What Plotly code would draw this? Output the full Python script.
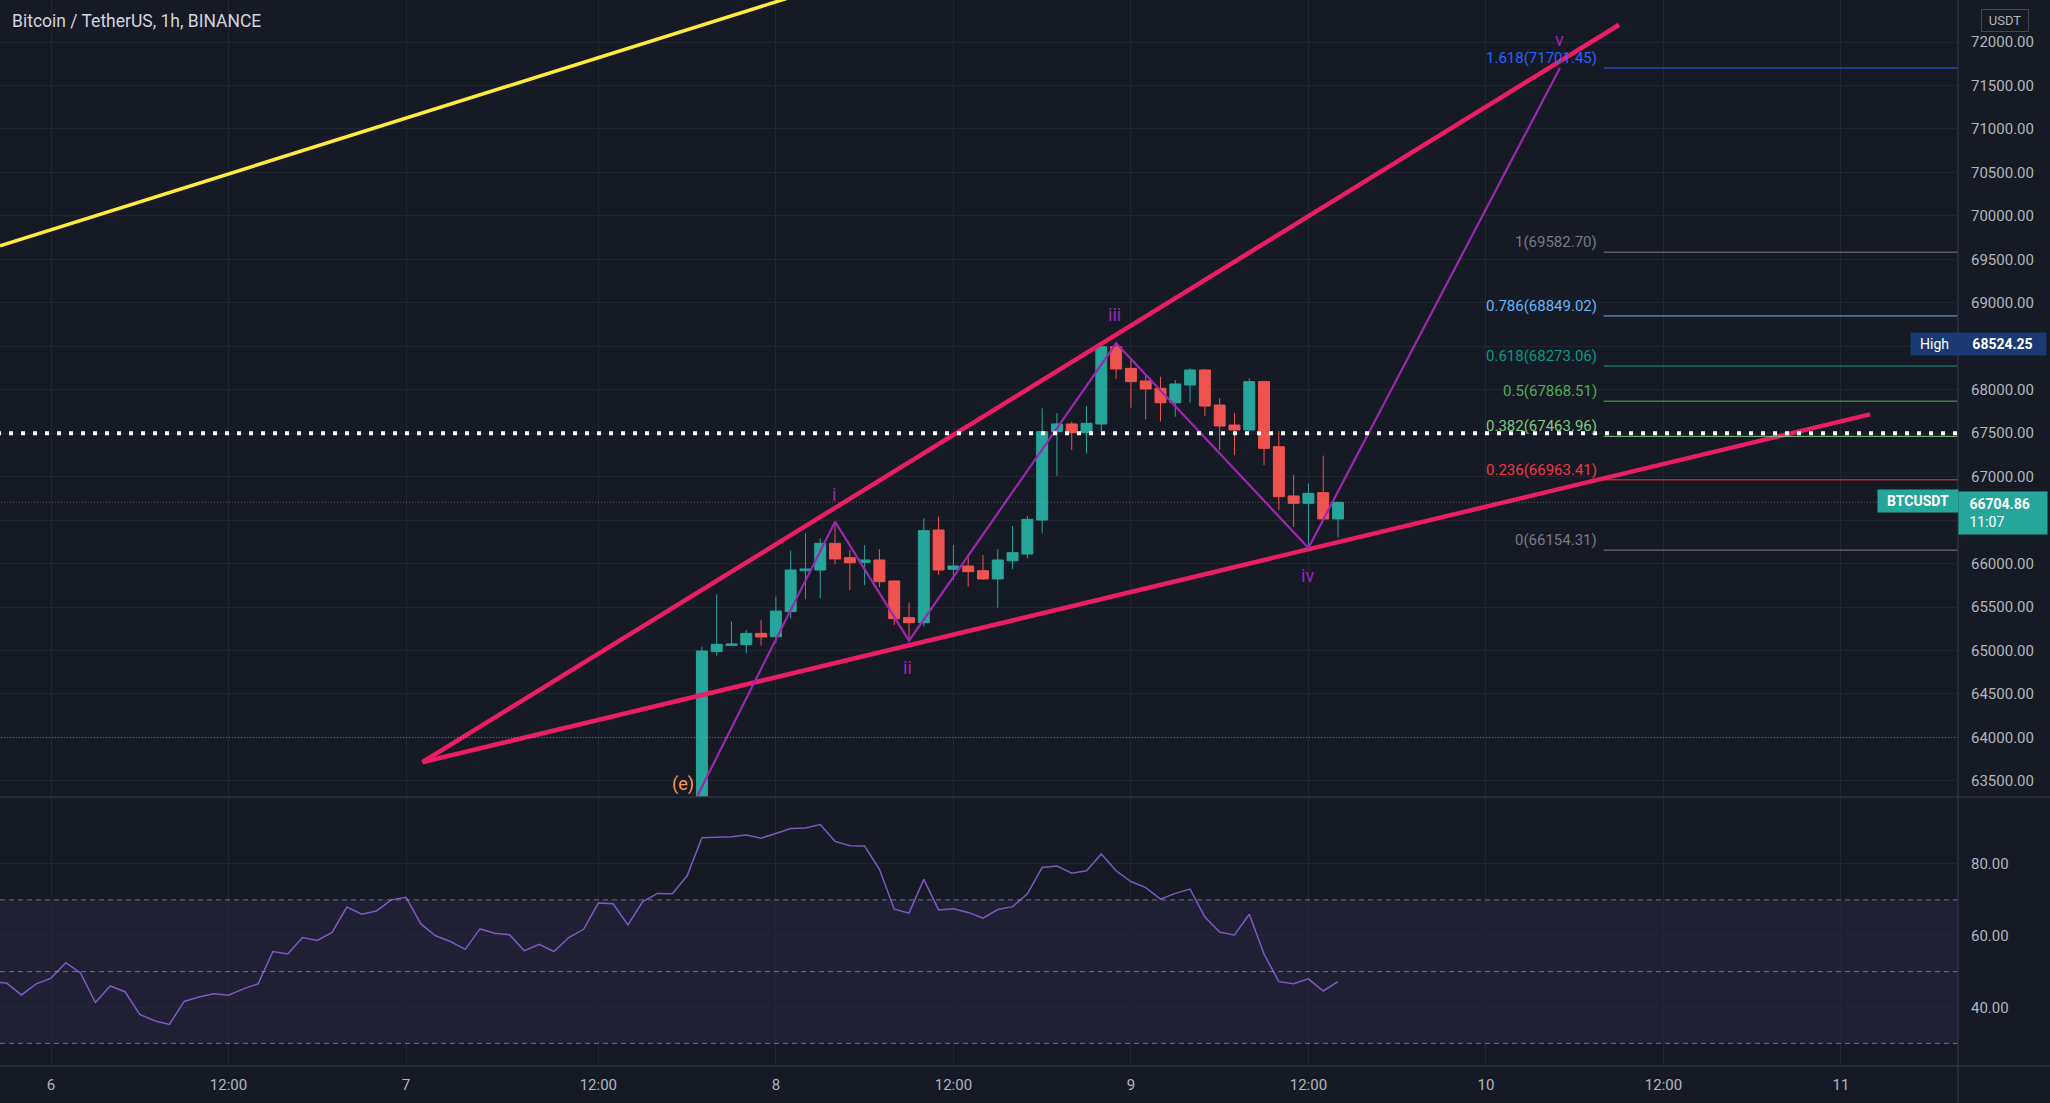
import plotly.graph_objects as go

# ---------------- data ----------------
bar_idx = list(range(44, 88))  # hourly bar index (0 = day 6 00:00)
opens = [63200, 64987, 65059, 65067, 65197, 65159, 65447, 65918, 65926, 66233, 66068, 66014,
         66041, 65800, 65378, 65320, 66386, 65934, 65972, 65918, 65823, 66033, 66110, 66501,
         67518, 67606, 67506, 67606, 68496, 68246, 68101, 68016, 67851, 68055, 68227, 67824,
         67594, 67537, 68093, 67345, 66778, 66693, 66816, 66513]
highs = [65044, 65646, 65332, 65236, 65351, 65619, 66149, 66348, 66290, 66471, 66156, 66214,
         66164, 65810, 65550, 66521, 66540, 66214, 66099, 66099, 66164, 66432, 66547, 67786,
         67729, 67633, 67813, 68503, 68524.25, 68361, 68170, 68150, 68112, 68246, 68239, 67901,
         67729, 68131, 68104, 67525, 67019, 66923, 67242, 66712]
lows = [63100, 64941, 65056, 64967, 65056, 65082, 65370, 65589, 65600, 65991, 65696, 65754,
        65727, 65293, 65121, 65274, 65869, 65811, 65734, 65811, 65493, 65938, 66060, 66348,
        67008, 67307, 67268, 67518, 68124, 67794, 67660, 67633, 67690, 67851, 67698, 67307,
        67249, 67529, 67134, 66616, 66425, 66154.31, 66501, 66302]
closes = [64994, 65071, 65075, 65197, 65155, 65454, 65926, 65938, 66233, 66053, 66010, 66041,
          65792, 65366, 65320, 66379, 65926, 65972, 65907, 65823, 66041, 66126, 66509, 67518,
          67606, 67506, 67614, 68496, 68239, 68093, 68009, 67851, 68066, 68227, 67813, 67583,
          67537, 68093, 67326, 66770, 66693, 66808, 66513, 66704.86]

rsi_idx = list(range(-4, 88))
rsi_vals = [47.2, 46.8, 43.5, 46.6, 48.2, 52.5, 49.6, 41.4, 46.0, 44.4, 38.1, 36.3, 35.3, 41.7,
            42.9, 43.8, 43.4, 45.2, 46.6, 55.6, 54.9, 59.5, 58.7, 60.9, 68.0, 66.0, 66.9, 70.0,
            70.7, 63.3, 60.0, 58.4, 56.2, 61.9, 60.7, 60.3, 55.8, 57.6, 55.6, 59.5, 61.8, 69.1,
            68.9, 63.0, 69.5, 71.8, 71.7, 76.7, 87.3, 87.5, 87.6, 88.1, 87.2, 88.5, 89.9, 90.0,
            91.0, 86.3, 85.1, 85.0, 78.5, 67.4, 66.3, 75.7, 67.2, 67.5, 66.5, 64.9, 67.3, 68.1,
            71.7, 79.0, 79.4, 77.4, 78.1, 82.8, 78.1, 75.1, 73.4, 70.2, 71.8, 73.0, 65.2, 61.0,
            60.2, 66.0, 54.9, 47.2, 46.6, 48.0, 44.6, 47.2]
rsi_levels = [70, 50, 30]

time_tick_idx = [0, 12, 24, 37, 49, 61, 73, 85, 97, 109, 121]
time_tick_text = ["6", "12:00", "7", "12:00", "8", "12:00", "9", "12:00", "10", "12:00", "11"]

price_ticks = list(range(63500, 72001, 500))
price_ticks_hidden = [66500, 68500]  # covered by the price/high labels
rsi_ticks = [40, 60, 80]

wave_x = [43.7, 53, 58, 72, 85, 102]
wave_y = [63330, 66482, 65113, 68534, 66180, 71701.45]
wave_labels = ["(e)", "i", "ii", "iii", "iv", "v"]
wave_label_x = [42.7, 52.95, 57.9, 71.9, 84.95, 102]
wave_label_y = [63460, 66800, 64799, 68861, 65865, 72033]

wedge_upper_x = [25.1, 106.0]
wedge_upper_y = [63715, 72199]
wedge_lower_x = [25.1, 122.96]
wedge_lower_y = [63715, 67716]
yellow_x = [-3.45, 60]
yellow_y = [69656, 73051]

fib_ratio = ["1.618", "1", "0.786", "0.618", "0.5", "0.382", "0.236", "0"]
fib_price = [71701.45, 69582.70, 68849.02, 68273.06, 67868.51, 67463.96, 66963.41, 66154.31]
fib_colors = ["#2962ff", "#787b86", "#64b5f6", "#089981", "#4caf50", "#81c784", "#f23645", "#787b86"]
fib_start = 104.96

hline_bold = 67500
hline_thin = 64000
last_time = "11:07"
title_text = "Bitcoin / TetherUS, 1h, BINANCE"
currency = "USDT"
symbol = "BTCUSDT"

# ---------------- layout geometry ----------------
W, H = 2050, 1103
PLOT_W = 1957.6
PLOT_H = 1066.0
SPLIT = 797.0
X_MIN, X_MAX = -3.448, 128.91
Y_MIN, Y_MAX = 63314.5, 72483.9
R_MIN, R_MAX = 23.7, 98.66

BG = "#161a25"
GRID = "#222632"
TXT = "#b2b5be"
UP = "#26a69a"
DN = "#ef5350"
PINK = "#e91e63"
PURPLE = "#9c27b0"
FONT = "Roboto"


def xp(px):
    return px / PLOT_W


def yp(py):
    return 1 - py / PLOT_H


fig = go.Figure()

fig.add_trace(go.Candlestick(
    x=bar_idx, open=opens, high=highs, low=lows, close=closes,
    increasing=dict(line=dict(color=UP, width=1), fillcolor=UP),
    decreasing=dict(line=dict(color=DN, width=1), fillcolor=DN),
    whiskerwidth=0, showlegend=False, hoverinfo="skip", xaxis="x", yaxis="y"))

# drawings
fig.add_trace(go.Scatter(x=yellow_x, y=yellow_y, mode="lines",
                         line=dict(color="#ffeb3b", width=3.5), showlegend=False,
                         hoverinfo="skip"))
fig.add_trace(go.Scatter(x=wedge_upper_x, y=wedge_upper_y, mode="lines",
                         line=dict(color=PINK, width=4.5), showlegend=False, hoverinfo="skip"))
fig.add_trace(go.Scatter(x=wedge_lower_x, y=wedge_lower_y, mode="lines",
                         line=dict(color=PINK, width=4.5), showlegend=False, hoverinfo="skip"))
fig.add_trace(go.Scatter(x=wave_x, y=wave_y, mode="lines",
                         line=dict(color=PURPLE, width=2.2), showlegend=False, hoverinfo="skip"))

# fib lines
for r, p, c in zip(fib_ratio, fib_price, fib_colors):
    fig.add_trace(go.Scatter(x=[fib_start, X_MAX + 5], y=[p, p], mode="lines",
                             line=dict(color=c, width=1), showlegend=False, hoverinfo="skip"))

# horizontal rays
fig.add_trace(go.Scatter(x=[X_MIN - 5, X_MAX + 5], y=[hline_thin, hline_thin], mode="lines",
                         line=dict(color="rgba(170,172,182,0.55)", width=1, dash="1px,2px"),
                         showlegend=False, hoverinfo="skip"))
fig.add_trace(go.Scatter(x=[X_MIN - 5, X_MAX + 5], y=[closes[-1], closes[-1]], mode="lines",
                         line=dict(color="rgba(170,172,182,0.45)", width=1, dash="1px,2px"),
                         showlegend=False, hoverinfo="skip"))
fig.add_trace(go.Scatter(x=[X_MIN - 0.2, X_MAX + 5], y=[hline_bold, hline_bold], mode="lines",
                         line=dict(color="#ffffff", width=4, dash="4px,8px"),
                         showlegend=False, hoverinfo="skip"))

# RSI
fig.add_trace(go.Scatter(x=rsi_idx, y=rsi_vals, mode="lines",
                         line=dict(color="#7e57c2", width=1.5), showlegend=False,
                         hoverinfo="skip", xaxis="x2", yaxis="y2"))

shapes = [
    dict(type="rect", xref="x2 domain", yref="y2", x0=0, x1=1, y0=rsi_levels[2], y1=rsi_levels[0],
         fillcolor="rgba(126,87,194,0.10)", line=dict(width=0), layer="below"),
]
for lv in rsi_levels:
    shapes.append(dict(type="line", xref="x2 domain", yref="y2", x0=0, x1=1, y0=lv, y1=lv,
                       line=dict(color="rgba(178,181,190,0.55)", width=1, dash="5px,4px")))
# pane separators and axis border
shapes += [
    dict(type="line", xref="paper", yref="paper", x0=0, x1=W / PLOT_W, y0=yp(SPLIT), y1=yp(SPLIT),
         line=dict(color="#2e3240", width=1.5)),
    dict(type="line", xref="paper", yref="paper", x0=0, x1=W / PLOT_W, y0=0, y1=0,
         line=dict(color="#2e3240", width=1.5)),
    dict(type="line", xref="paper", yref="paper", x0=1, x1=1, y0=1, y1=yp(H),
         line=dict(color="#2e3240", width=1.5)),
]

ann = []
# title
ann.append(dict(text=title_text, xref="paper", yref="paper", x=xp(10), y=yp(21),
                xanchor="left", yanchor="middle", showarrow=False,
                font=dict(family=FONT, size=17.5, color="#d1d4dc")))
# currency box
ann.append(dict(text=currency, xref="paper", yref="paper", x=xp(1980.7), y=yp(8.9),
                xanchor="left", yanchor="top", showarrow=False, width=46, height=21,
                borderpad=0, bordercolor="#434651", borderwidth=1, bgcolor=BG,
                font=dict(family=FONT, size=13, color=TXT)))
# wave labels
for t, x, y in zip(wave_labels, wave_label_x, wave_label_y):
    ann.append(dict(text=t, x=x, y=y, xref="x", yref="y", showarrow=False,
                    xanchor="center", yanchor="middle",
                    font=dict(family=FONT, size=18,
                              color="#ff9850" if t == "(e)" else PURPLE)))
# fib labels
for r, p, c in zip(fib_ratio, fib_price, fib_colors):
    ann.append(dict(text=f"{r}({p:.2f})", x=fib_start - 0.35, y=p, xref="x", yref="y",
                    showarrow=False, xanchor="right", yanchor="bottom", yshift=-1,
                    font=dict(family=FONT, size=15, color=c)))
# High label
hi = max(highs)
ann.append(dict(text="High", xref="paper", yref="y", x=xp(1910), y=hi, xanchor="left",
                yanchor="middle", showarrow=False, width=47, height=22, borderpad=0,
                bgcolor="#1a3a73", font=dict(family=FONT, size=14, color="#ffffff")))
ann.append(dict(text=f"<b>{hi:.2f}</b>", xref="paper", yref="y", x=1.0, y=hi, xanchor="left",
                yanchor="middle", showarrow=False, width=87, height=22, borderpad=0,
                bgcolor="#1a3a73", font=dict(family=FONT, size=14, color="#ffffff")))
# last price labels
ann.append(dict(text=f"<b>{symbol}</b>", xref="paper", yref="y", x=xp(1877), y=closes[-1],
                xanchor="left", yanchor="middle", showarrow=False, width=80, height=22,
                borderpad=0, bgcolor=UP, yshift=1,
                font=dict(family=FONT, size=14, color="#ffffff")))
ann.append(dict(text=f"&nbsp;&nbsp;&nbsp;<b>{closes[-1]:.2f}</b><br>&nbsp;&nbsp;&nbsp;{last_time}",
                xref="paper", yref="y", x=1.0, y=closes[-1], xanchor="left", yanchor="top",
                yshift=11.6, showarrow=False, width=88, height=42, borderpad=0, bgcolor=UP,
                align="left", font=dict(family=FONT, size=14, color="#ffffff")))

split_frac = 1 - SPLIT / PLOT_H

fig.update_layout(
    width=W, height=H,
    margin=dict(l=0, r=W - PLOT_W, t=0, b=H - PLOT_H),
    paper_bgcolor=BG, plot_bgcolor=BG,
    showlegend=False,
    boxgap=0.26, boxgroupgap=0,
    shapes=shapes, annotations=ann,
    font=dict(family=FONT, color=TXT, size=15),
    xaxis=dict(domain=[0, 1], range=[X_MIN, X_MAX], anchor="y", tickvals=time_tick_idx,
               showticklabels=False, showgrid=True, gridcolor=GRID, gridwidth=1,
               zeroline=False, rangeslider=dict(visible=False), showline=False),
    yaxis=dict(domain=[split_frac, 1], range=[Y_MIN, Y_MAX], side="right", anchor="x",
               tickvals=price_ticks,
               ticktext=["" if v in price_ticks_hidden else f"{v:.2f}" for v in price_ticks],
               showgrid=True, gridcolor=GRID, zeroline=False, ticks="",
               ticklabelstandoff=12, tickfont=dict(family=FONT, size=15, color=TXT)),
    xaxis2=dict(domain=[0, 1], range=[X_MIN, X_MAX], anchor="y2", matches="x",
                tickvals=time_tick_idx, ticktext=time_tick_text, showgrid=True,
                gridcolor=GRID, zeroline=False, ticks="", ticklabelstandoff=8,
                tickfont=dict(family=FONT, size=15, color=TXT)),
    yaxis2=dict(domain=[0, split_frac], range=[R_MIN, R_MAX], side="right", anchor="x2",
                tickvals=rsi_ticks, ticktext=[f"{v:.2f}" for v in rsi_ticks],
                showgrid=True, gridcolor=GRID, zeroline=False, ticks="",
                ticklabelstandoff=12, tickfont=dict(family=FONT, size=15, color=TXT)),
)

fig.write_html("out.html", config={"displayModeBar": False},
               post_script="document.body.style.margin='0';document.body.style.overflow='hidden';")
